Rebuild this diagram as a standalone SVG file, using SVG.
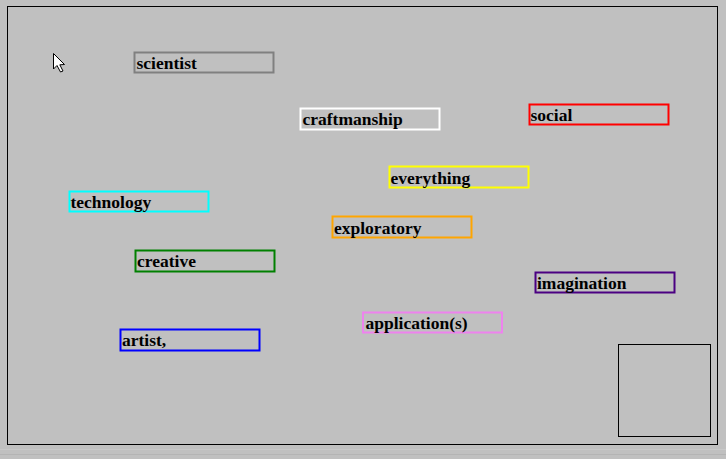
<svg xmlns="http://www.w3.org/2000/svg" width="726" height="459" viewBox="0 0 726 459">
<style>
.box{fill:none;stroke-width:2}
.lbl{font-family:"Liberation Serif","Times New Roman",serif;font-weight:bold;font-size:17.5px;fill:#000}
</style>
<rect x="0" y="0" width="726" height="459" fill="#c0c0c0"/>
<line x1="0" y1="454.5" x2="726" y2="454.5" stroke="#b4b4b4" stroke-width="1"/>
<line x1="0" y1="449.5" x2="726" y2="449.5" stroke="#c8c8c8" stroke-width="1"/>
<rect x="7.5" y="6.5" width="710" height="438" fill="none" stroke="#000" stroke-width="1"/>
<rect x="618.5" y="344.5" width="92" height="92" fill="none" stroke="#000" stroke-width="1"/>
<path d="M53.5,53.5 L53.5,69 L57,65.5 L60.5,72 L63,71 L59.8,64.8 L64.5,64.5 Z" fill="#fff" stroke="#000" stroke-width="1" stroke-linejoin="round"/>
<g id="connectors"></g>
<g id="n-scientist"><rect class="box" x="134.5" y="52.5" width="139" height="20" stroke="#808080"/><text class="lbl" x="136.5" y="69">scientist</text></g>
<g id="n-craftmanship"><rect class="box" x="300.5" y="108.5" width="139" height="21" stroke="#ffffff"/><text class="lbl" x="302.5" y="125">craftmanship</text></g>
<g id="n-social"><rect class="box" x="529.5" y="104.5" width="139" height="20" stroke="#ff0000"/><text class="lbl" x="530.5" y="121">social</text></g>
<g id="n-everything"><rect class="box" x="389.5" y="166.5" width="139" height="21" stroke="#ffff00"/><text class="lbl" x="390.5" y="184">everything</text></g>
<g id="n-exploratory"><rect class="box" x="332.5" y="216.5" width="139" height="21" stroke="#ffa500"/><text class="lbl" x="334" y="234">exploratory</text></g>
<g id="n-technology"><rect class="box" x="69.5" y="191.5" width="139" height="20" stroke="#00ffff"/><text class="lbl" x="70.5" y="208">technology</text></g>
<g id="n-creative"><rect class="box" x="135.5" y="250.5" width="139" height="21" stroke="#008000"/><text class="lbl" x="137" y="267">creative</text></g>
<g id="n-imagination"><rect class="box" x="535.5" y="272.5" width="139" height="20" stroke="#4b0082"/><text class="lbl" x="537" y="289">imagination</text></g>
<g id="n-applications"><rect class="box" x="363" y="312.5" width="139" height="20" stroke="#ee82ee"/><text class="lbl" x="365.5" y="329">application(s)</text></g>
<g id="n-artist"><rect class="box" x="120.5" y="329.5" width="139" height="21" stroke="#0000ff"/><text class="lbl" x="122" y="346">artist,</text></g>
</svg>
